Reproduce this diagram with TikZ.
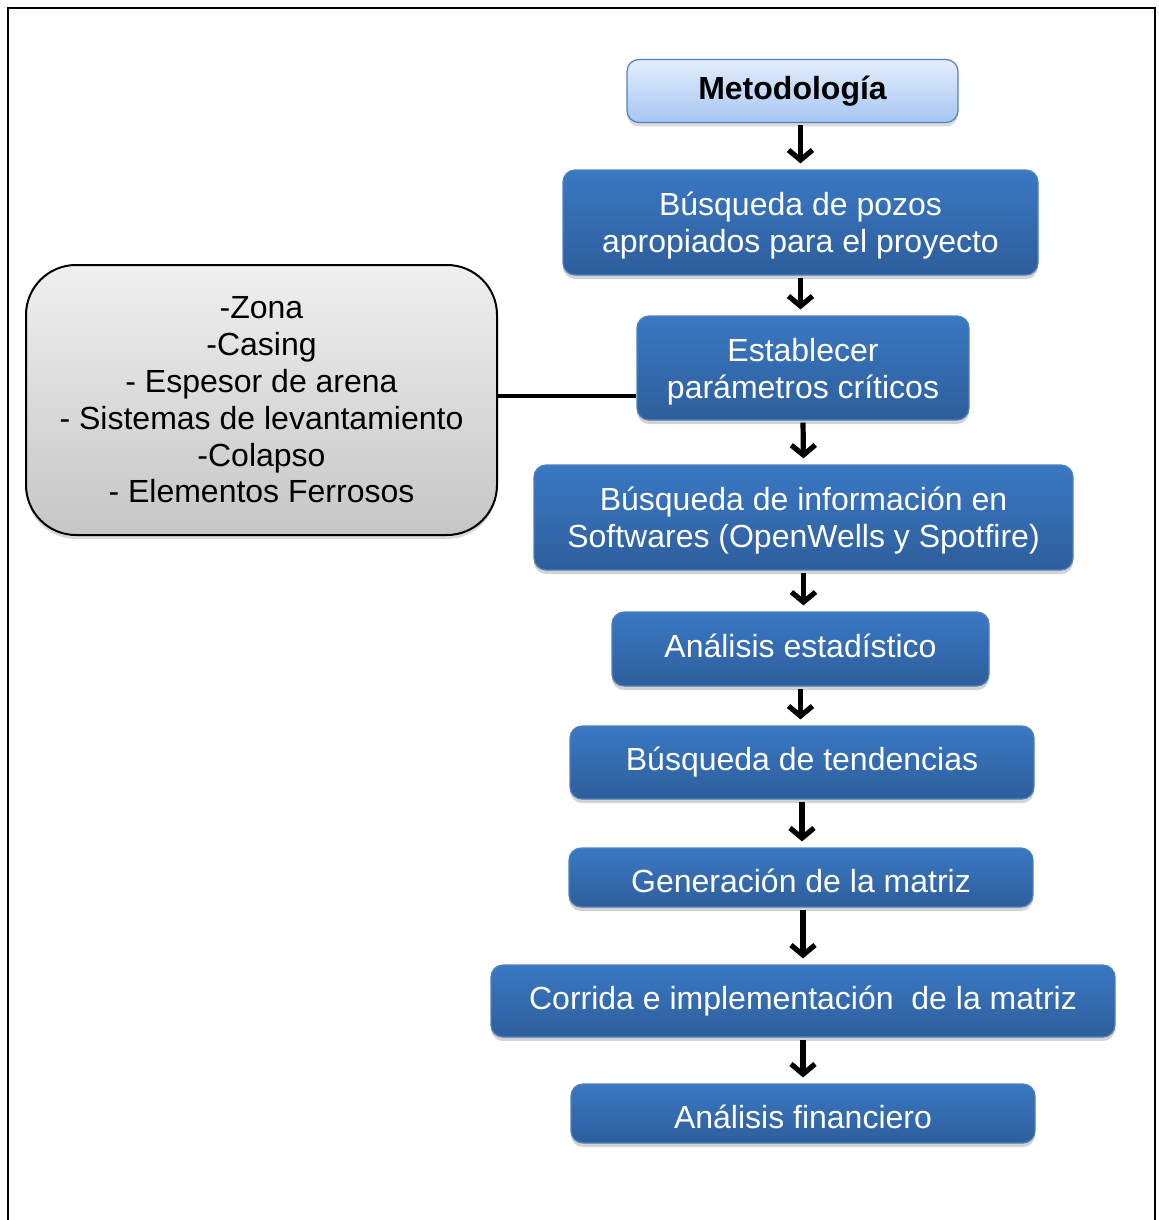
\documentclass[tikz,border=0pt]{standalone}
\usepackage{fontspec}
\setmainfont{Liberation Sans}
\usetikzlibrary{arrows.meta,shadows}

\definecolor{stepblue}{HTML}{3A78C3}
\definecolor{stepdark}{HTML}{2E5E9C}
\definecolor{stepedge}{HTML}{4F81BD}
\definecolor{headtop}{HTML}{E3EEFC}
\definecolor{headbot}{HTML}{A6C6F4}

\newcommand{\upstrut}{\rule{0pt}{15pt}}

\begin{document}
\begin{tikzpicture}[
  x=0.5pt, y=-0.5pt,
  font=\fontsize{16}{18.4}\selectfont,
  stepbox/.style={rounded corners=6pt, draw=stepedge, line width=0.6pt,
    top color=stepblue, bottom color=stepdark, text=white, align=center,
    inner sep=0pt,
    drop shadow={opacity=0.35, shadow xshift=0pt, shadow yshift=-2pt}},
  headbox/.style={rounded corners=6pt, draw=stepedge, line width=0.6pt,
    top color=headtop, bottom color=headbot, text=black, align=center,
    inner sep=0pt, font=\fontsize{16}{18.4}\selectfont\bfseries,
    drop shadow={opacity=0.3, shadow xshift=0pt, shadow yshift=-2pt}},
  infobox/.style={rounded corners=25pt, draw=black, line width=1pt,
    top color=gray!12, bottom color=gray!45, align=center, inner sep=0pt,
    drop shadow={opacity=0.3, shadow xshift=0pt, shadow yshift=-2pt}},
  arr/.style={line width=2.6pt, -{Straight Barb[length=5pt,width=12pt]},
    shorten <=1pt, shorten >=3pt}
]
\useasboundingbox (0,0) rectangle (1158,1220);
\draw[line width=1.1pt] (8,1240) -- (8,8) -- (1155,8) -- (1155,1240);

\node[headbox, minimum width=165.5pt, minimum height=31.5pt] (meto) at (792.5,91) {Metodología};
\node[stepbox, minimum width=237.5pt, minimum height=52.5pt] (pozos) at (800.5,222.5) {\upstrut Búsqueda de pozos\\apropiados para el proyecto};
\node[stepbox, minimum width=166pt, minimum height=52pt] (param) at (803,368) {\upstrut Establecer\\parámetros críticos};
\node[stepbox, minimum width=269.5pt, minimum height=52.5pt] (soft) at (803.5,517.5) {\upstrut Búsqueda de información en\\Softwares (OpenWells y Spotfire)};
\node[stepbox, minimum width=188.5pt, minimum height=37pt] (estad) at (800.5,649) {Análisis estadístico\vphantom{g}};
\node[stepbox, minimum width=232pt, minimum height=36.5pt] (tend) at (802,762.5) {Búsqueda de tendencias};
\node[stepbox, minimum width=232pt, minimum height=29.5pt] (gener) at (801,877.5) {\upstrut Generación de la matriz};
\node[stepbox, minimum width=312pt, minimum height=36pt] (corr) at (803,1001) {Corrida e implementación~ de la matriz};
\node[stepbox, minimum width=232pt, minimum height=29.5pt] (finan) at (803,1113.5) {\upstrut Análisis financiero};

\node[infobox, minimum width=235.5pt, minimum height=135pt] (crit) at (261.5,400)
  {-Zona\\-Casing\\- Espesor de arena\\- Sistemas de levantamiento\\-Colapso\\- Elementos Ferrosos};

\draw[arr] (meto.south -| pozos.north) -- (pozos.north);
\draw[arr] (pozos.south) -- (pozos.south |- param.north);
\draw[arr] (param.south) -- (soft.north);
\draw[arr] (soft.south) -- (soft.south |- estad.north);
\draw[arr] (estad.south) -- (estad.south |- tend.north);
\draw[arr] (tend.south) -- (tend.south |- gener.north);
\draw[arr] (gener.south -| corr.north) -- (corr.north);
\draw[arr] (corr.south) -- (finan.north);

\draw[line width=2.4pt] (crit.east |- 0,396) -- (param.west |- 0,396);
\end{tikzpicture}
\end{document}
